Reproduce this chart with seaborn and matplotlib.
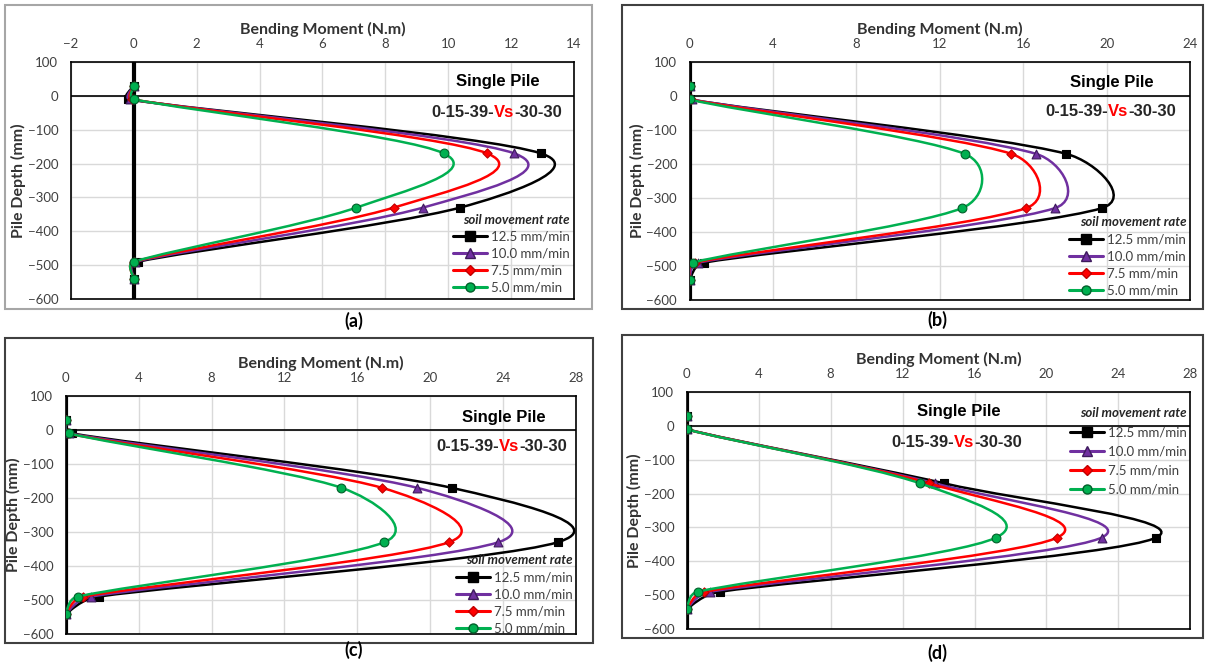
import numpy as np
import matplotlib
matplotlib.use('Agg')
import matplotlib.pyplot as plt
from matplotlib.path import Path
from matplotlib.patches import PathPatch, Rectangle
from matplotlib.lines import Line2D
import seaborn as sns

# pile depth of the gauge points (mm)
depth = [30, -10, -170, -330, -490, -540]
rates = ['12.5 mm/min', '10.0 mm/min', '7.5 mm/min', '5.0 mm/min']

# bending moment (N.m), one list per soil movement rate
a_125 = [0, -0.18, 12.95, 10.38, 0.13, 0]
a_100 = [0, -0.12, 12.10, 9.20, 0.05, 0]
a_75 = [0, -0.05, 11.24, 8.27, 0.0, 0]
a_50 = [0, 0, 9.86, 7.08, 0, 0]

b_125 = [0, 0, 18.05, 19.75, 0.70, 0]
b_100 = [0, 0.10, 16.60, 17.50, 0.42, 0]
b_75 = [0, 0.05, 15.42, 16.12, 0.25, 0]
b_50 = [0, 0, 13.18, 13.05, 0.15, 0]

c_125 = [0, 0.35, 21.17, 27.00, 1.80, 0]
c_100 = [0, 0.20, 19.28, 23.74, 1.37, 0]
c_75 = [0, 0.10, 17.35, 21.03, 0.97, 0]
c_50 = [0, 0.17, 15.13, 17.48, 0.65, 0]

d_125 = [0, 0, 14.33, 26.10, 1.85, 0]
d_100 = [0, 0, 13.80, 23.07, 1.30, 0]
d_75 = [0, 0, 13.48, 20.60, 0.98, 0]
d_50 = [0, 0, 12.98, 17.20, 0.60, 0]

panel_tags = ['(a)', '(b)', '(c)', '(d)']
x_limits = [(-2, 14), (0, 24), (0, 28), (0, 28)]
x_steps = [2, 4, 4, 4]

colors = ['#000000', '#7030A0', '#FF0000', '#00B050']
edges = ['#000000', '#3d1a5c', '#c00000', '#00602a']
markers = ['s', '^', 'D', 'o']
msizes = [36, 40, 22, 40]

W, H = 1205, 666
sns.set_style('white')
plt.rcParams['font.family'] = ['Lato', 'DejaVu Sans']
arial = ['Liberation Sans', 'DejaVu Sans']


def excel_smooth(ax, xs, ys, **kw):
    # Excel-style smoothed line: cubic Bezier through every point, built in pixel space
    x0, x1 = ax.get_xlim()
    y0, y1 = ax.get_ylim()
    bb = ax.get_position()
    sx = bb.width * W / (x1 - x0)
    sy = bb.height * H / (y1 - y0)
    P = np.column_stack([np.asarray(xs, float) * sx, np.asarray(ys, float) * sy])
    n = len(P)
    verts, codes = [P[0]], [Path.MOVETO]
    for i in range(n - 1):
        p0, p1, p2, p3 = P[max(i - 1, 0)], P[i], P[i + 1], P[min(i + 2, n - 1)]
        half = np.hypot(*(p2 - p1)) / 2
        ctrl = []
        for t in (p2 - p0, p3 - p1):
            L = np.hypot(*t)
            ctrl.append(t * min(1 / 6, half / L) if L > 0 else t * 0)
        verts += [p1 + ctrl[0], p2 - ctrl[1], p2]
        codes += [Path.CURVE4] * 3
    V = np.array(verts)
    V[:, 0] /= sx
    V[:, 1] /= sy
    ax.add_patch(PathPatch(Path(V, codes), fill=False, capstyle='round', **kw))


fig = plt.figure(figsize=(W / 100, H / 100), dpi=100)
fig.patch.set_facecolor('white')

# frames around each sub-figure (pixels: left, top, right, bottom)
frames = [(5, 5, 592, 309, '#a6a6a6'), (622, 5, 1203, 309, '#404040'),
          (5, 338, 593, 643, '#404040'), (622, 335, 1203, 638, '#404040')]
for l, t, r, b, c in frames:
    fig.patches.append(Rectangle((l / W, 1 - b / H), (r - l) / W, (b - t) / H,
                                 transform=fig.transFigure, fill=False,
                                 edgecolor=c, linewidth=1.5))

boxes = [(70.8, 62, 574, 299), (689.5, 62, 1190.3, 300),
         (65.8, 396, 576, 634), (686.8, 392, 1190.3, 629)]
tag_pos = [(354, 321), (937.6, 320), (354, 650), (937.6, 653)]
title_pos = [(0.848, 0.916), (0.844, 0.912), (0.858, 0.908), (0.540, 0.916)]
code_pos = [(0.716, 0.789), (0.711, 0.790), (0.727, 0.786), (0.407, 0.789)]
leg_pos = [(0.992, 0.36), (0.992, 0.352), (0.994, 0.335), (0.993, 0.937)]
leg_gap = [0.38, 0.38, 0.38, 0.55]

series = [[a_125, a_100, a_75, a_50], [b_125, b_100, b_75, b_50],
          [c_125, c_100, c_75, c_50], [d_125, d_100, d_75, d_50]]

for k in range(4):
    l, t, r, b = boxes[k]
    ax = fig.add_axes([l / W, 1 - b / H, (r - l) / W, (b - t) / H])
    ax.set_xlim(*x_limits[k])
    ax.set_ylim(-600, 100)
    ax.set_xticks(np.arange(x_limits[k][0], x_limits[k][1] + 0.1, x_steps[k]))
    ax.set_yticks(np.arange(-600, 101, 100))
    ax.xaxis.tick_top()
    ax.xaxis.set_label_position('top')
    ax.tick_params(axis='x', length=0, pad=8.5, labelsize=9.5, labelcolor='#404040')
    ax.tick_params(axis='y', length=0, pad=9, labelsize=9.5, labelcolor='#404040')
    ax.grid(True, color='#d9d9d9', linewidth=1)
    ax.set_axisbelow(True)
    for s in ax.spines.values():
        s.set_color('black')
        s.set_linewidth(1.2)
    ax.set_xlabel('Bending Moment (N.m)', fontsize=11.5, fontweight='bold',
                  color='#333333', labelpad=3)
    ax.set_ylabel('Pile Depth (mm)', fontsize=11.5, fontweight='bold',
                  color='#333333', labelpad=1)

    # pile axis and ground surface
    ax.axvline(0, color='black', linewidth=3, zorder=2)
    ax.axhline(0, color='black', linewidth=1.2, zorder=2)

    for j, vals in enumerate(series[k]):
        excel_smooth(ax, vals, depth, edgecolor=colors[j], linewidth=1.8,
                     zorder=3 + 2 * j)
        sns.scatterplot(x=vals, y=depth, ax=ax, marker=markers[j], s=msizes[j],
                        color=colors[j], edgecolor=edges[j], linewidth=0.8,
                        zorder=4 + 2 * j, legend=False)

    ax.text(title_pos[k][0], title_pos[k][1], 'Single Pile', transform=ax.transAxes,
            ha='center', va='center', fontsize=12, fontweight='bold',
            family=arial, color='black')
    t1 = ax.text(code_pos[k][0], code_pos[k][1], '0-15-39-', transform=ax.transAxes,
                 ha='left', va='center', fontsize=12, fontweight='bold', family=arial)
    t2 = ax.annotate('Vs', xy=(1, 0), xycoords=t1, ha='left', va='bottom',
                     fontsize=12, fontweight='bold', color='red', family=arial)
    ax.annotate('-30-30', xy=(1, 0), xycoords=t2, ha='left', va='bottom',
                fontsize=12, fontweight='bold', family=arial)

    handles = [Line2D([], [], color=colors[j], linewidth=2.2, marker=markers[j],
                      markersize=6.5 if markers[j] != 'D' else 5,
                      markerfacecolor=colors[j], markeredgecolor=edges[j])
               for j in range(4)]
    ax.legend(handles, rates, loc='upper right', bbox_to_anchor=leg_pos[k],
              frameon=False, fontsize=9.5, labelcolor='#404040',
              title='soil movement rate', alignment='right',
              title_fontproperties={'weight': 'bold', 'style': 'italic', 'size': 9.5},
              handlelength=2.6, handletextpad=0.3, labelspacing=leg_gap[k],
              borderpad=0, borderaxespad=0)

    fig.text(tag_pos[k][0] / W, 1 - tag_pos[k][1] / H, panel_tags[k], ha='center',
             va='center', fontsize=13, fontweight='bold', color='black')

fig.savefig('out.png', dpi=100, facecolor='white')
